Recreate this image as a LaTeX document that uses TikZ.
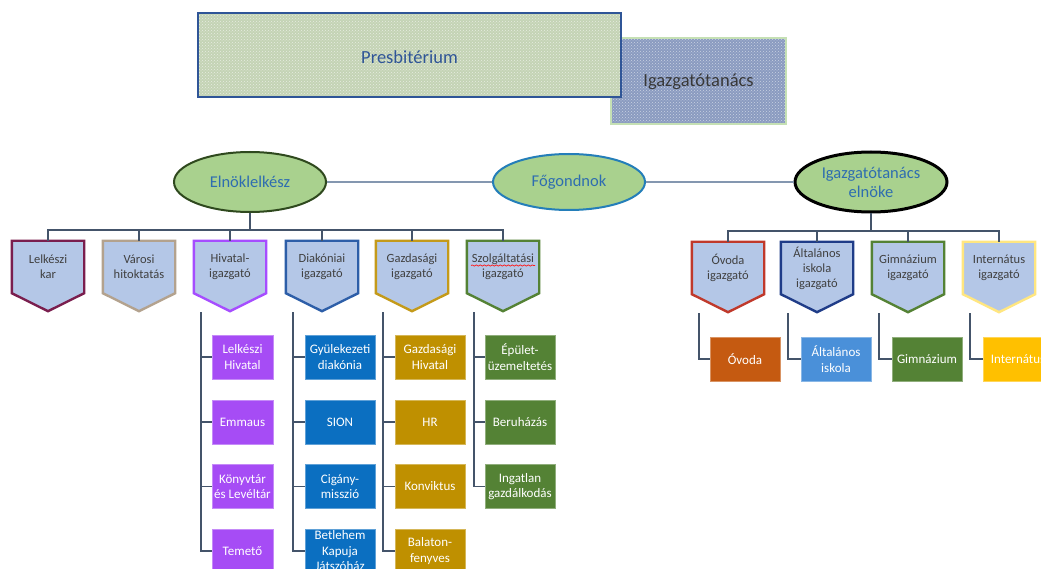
\documentclass[tikz,border=0pt]{standalone}
\usepackage{fontspec}
\setmainfont{Carlito}
\usetikzlibrary{shapes.geometric,patterns,calc,backgrounds,decorations.pathmorphing}
\definecolor{pentfill}{HTML}{B4C7E7}
\definecolor{ellfill}{HTML}{A9D18E}
\definecolor{conncol}{HTML}{44546A}
\definecolor{linkcol}{HTML}{8497B0}
\definecolor{elltext}{HTML}{2E6DB0}
\definecolor{pentText}{HTML}{404040}
\definecolor{presfill}{HTML}{C4D3B5}
\definecolor{presdraw}{HTML}{2F5597}
\definecolor{igfill}{HTML}{8A9BC0}
\definecolor{igdraw}{HTML}{C5E0B4}
\definecolor{cPurpleB}{HTML}{7A1E4E}
\definecolor{cTan}{HTML}{B3A28E}
\definecolor{cViolet}{HTML}{A64DFF}
\definecolor{cBlueB}{HTML}{2D5EA8}
\definecolor{cGoldB}{HTML}{C49A1A}
\definecolor{cGreenB}{HTML}{548235}
\definecolor{cRedB}{HTML}{C0392B}
\definecolor{cNavyB}{HTML}{1F3C88}
\definecolor{cYellowB}{HTML}{FFE680}
\definecolor{fPurple}{HTML}{A64CF5}
\definecolor{fBlue}{HTML}{0B6FC1}
\definecolor{fGold}{HTML}{BF9000}
\definecolor{fGreen}{HTML}{548235}
\definecolor{fOrange}{HTML}{C55A11}
\definecolor{fSky}{HTML}{4A90D9}
\definecolor{fYellow}{HTML}{FFC000}
\tikzset{
  conn/.style={draw=conncol, line width=1.5pt},
  link/.style={draw=linkcol, line width=1.4pt},
  ell/.style={ellipse, fill=ellfill, line width=2pt, minimum width=152pt, minimum height=60pt, inner sep=0pt, text=elltext, align=center, font=\fontsize{16.5}{19}\selectfont},
  penttext/.style={minimum width=72pt, minimum height=52pt, inner sep=0pt, align=center, text=pentText, font=\fontsize{12.5}{15}\selectfont},
  pentbox/.style={fill=pentfill, line width=2.4pt, line join=miter},
  childbox/.style={minimum height=44pt, inner sep=0pt, align=center, text=white, font=\fontsize{13}{15.5}\selectfont, draw=white!35!#1, line width=0.8pt, fill=#1},
}
\newcommand\pentag[5]{%
  \node[penttext] (#1) at (#2,#3) {#5};
  \begin{pgfonlayer}{background}
  \draw[pentbox, draw=#4] (#1.north west) -- (#1.north east) -- (#1.south east) -- ($(#1.south)+(0,18)$) -- (#1.south west) -- cycle;
  \end{pgfonlayer}
  \coordinate (#1L) at ($(#1.south west)+(7,19)$);
}
\begin{document}
\begin{tikzpicture}[x=1pt,y=-1pt]
\begin{pgfonlayer}{background}
\fill[white] (0,0) rectangle (1041,569);
\end{pgfonlayer}
\useasboundingbox (0,0) rectangle (1041,569);
% top boxes
\node[draw=igdraw, line width=2.2pt, preaction={fill=igfill}, pattern=crosshatch dots, pattern color=white!55!igfill, minimum width=175pt, minimum height=86pt, inner sep=0pt] (igt) at (698.5,81) {};
\node[text=black!78, font=\fontsize{18.5}{22}\selectfont] (igtl) at (698.5,82) {Igazgatótanács};
\node[draw=presdraw, line width=2pt, preaction={fill=presfill}, pattern=crosshatch dots, pattern color=white!60!presfill, minimum width=423pt, minimum height=84pt, inner sep=0pt] (pres) at (409.5,55) {};
\node[text=presdraw, font=\fontsize{18.5}{22}\selectfont] (presl) at (409.5,57) {Presbitérium};
% ellipses
\node[ell, draw=black!20!cGreenB!70!black] (eln) at (250,182) {Elnöklelkész};
\node[ell, draw=cBlueB!80!cyan, minimum height=56pt] (fog) at (569,182) {Főgondnok};
\node[ell, draw=black, line width=3pt] (ige) at (871,182) {Igazgatótanács\\elnöke};
\draw[link] (eln.east) -- (fog.west);
\draw[link] (fog.east) -- (ige.west);
% left pentagons
\pentag{lk}{48}{267}{cPurpleB}{Lelkészi\\kar}
\pentag{vh}{139}{267}{cTan}{Városi\\hitoktatás}
\pentag{hv}{230}{267}{cViolet}{Hivatal-\\igazgató}
\pentag{dk}{322}{267}{cBlueB}{Diakóniai\\igazgató}
\pentag{gz}{412}{267}{cGoldB}{Gazdasági\\igazgató}
\pentag{sz}{503}{267}{cGreenB}{Szolgáltatási\\igazgató}
\draw[red!90, line width=0.7pt, decorate, decoration={snake, amplitude=0.6pt, segment length=4pt}] (471,265.5) -- (535,265.5);
% right pentagons
\pentag{ov}{728}{268}{cRedB}{Óvoda\\igazgató}
\pentag{al}{817}{268}{cNavyB}{Általános\\iskola\\igazgató}
\pentag{gi}{908}{268}{cGreenB}{Gimnázium\\igazgató}
\pentag{in}{999}{268}{cYellowB}{Internátus\\igazgató}
% bus connectors
\foreach \p in {lk,vh,hv,dk,gz,sz}
  \draw[conn] (eln.south) |- ($(\p.north)+(0,-11)$) -- (\p.north);
\foreach \p in {ov,al,gi,in}
  \draw[conn] (ige.south) |- ($(\p.north)+(0,-11)$) -- (\p.north);
% left children
\node[childbox=fPurple, minimum width=61pt] (h1) at (242.5,357) {Lelkészi\\Hivatal};
\node[childbox=fPurple, minimum width=61pt] (h2) at (242.5,422) {Emmaus};
\node[childbox=fPurple, minimum width=61pt] (h3) at (242.5,486.5) {Könyvtár\\és Levéltár};
\node[childbox=fPurple, minimum width=61pt] (h4) at (242.5,551) {Temető};
\node[childbox=fBlue, minimum width=70pt] (d1) at (340,357) {Gyülekezeti\\diakónia};
\node[childbox=fBlue, minimum width=70pt] (d2) at (340,422) {SION};
\node[childbox=fBlue, minimum width=70pt] (d3) at (340,486.5) {Cigány-\\misszió};
\node[childbox=fBlue, minimum width=70pt] (d4) at (340,551) {Betlehem\\Kapuja\\Játszóház};
\node[childbox=fGold, minimum width=70pt] (g1) at (430,357) {Gazdasági\\Hivatal};
\node[childbox=fGold, minimum width=70pt] (g2) at (430,422) {HR};
\node[childbox=fGold, minimum width=70pt] (g3) at (430,486.5) {Konviktus};
\node[childbox=fGold, minimum width=70pt] (g4) at (430,551) {Balaton-\\fenyves};
\node[childbox=fGreen, minimum width=70pt] (s1) at (520,357) {Épület-\\üzemeltetés};
\node[childbox=fGreen, minimum width=70pt] (s2) at (520,422) {Beruházás};
\node[childbox=fGreen, minimum width=70pt] (s3) at (520,486.5) {Ingatlan\\gazdálkodás};
\foreach \c in {h1,h2,h3,h4} \draw[conn] (hvL) |- (\c.west);
\foreach \c in {d1,d2,d3,d4} \draw[conn] (dkL) |- (\c.west);
\foreach \c in {g1,g2,g3,g4} \draw[conn] (gzL) |- (\c.west);
\foreach \c in {s1,s2,s3} \draw[conn] (szL) |- (\c.west);
% right children
\node[childbox=fOrange, minimum width=70pt] (o1) at (745,359) {Óvoda};
\node[childbox=fSky, minimum width=70pt] (a1) at (836,359) {Általános\\iskola};
\node[childbox=fGreen, minimum width=70pt] (m1) at (927,359) {Gimnázium};
\node[childbox=fYellow, minimum width=70pt] (i1) at (1018,359) {Internátus};
\draw[conn] (ovL) |- (o1.west);
\draw[conn] (alL) |- (a1.west);
\draw[conn] (giL) |- (m1.west);
\draw[conn] (inL) |- (i1.west);
\end{tikzpicture}
\end{document}
